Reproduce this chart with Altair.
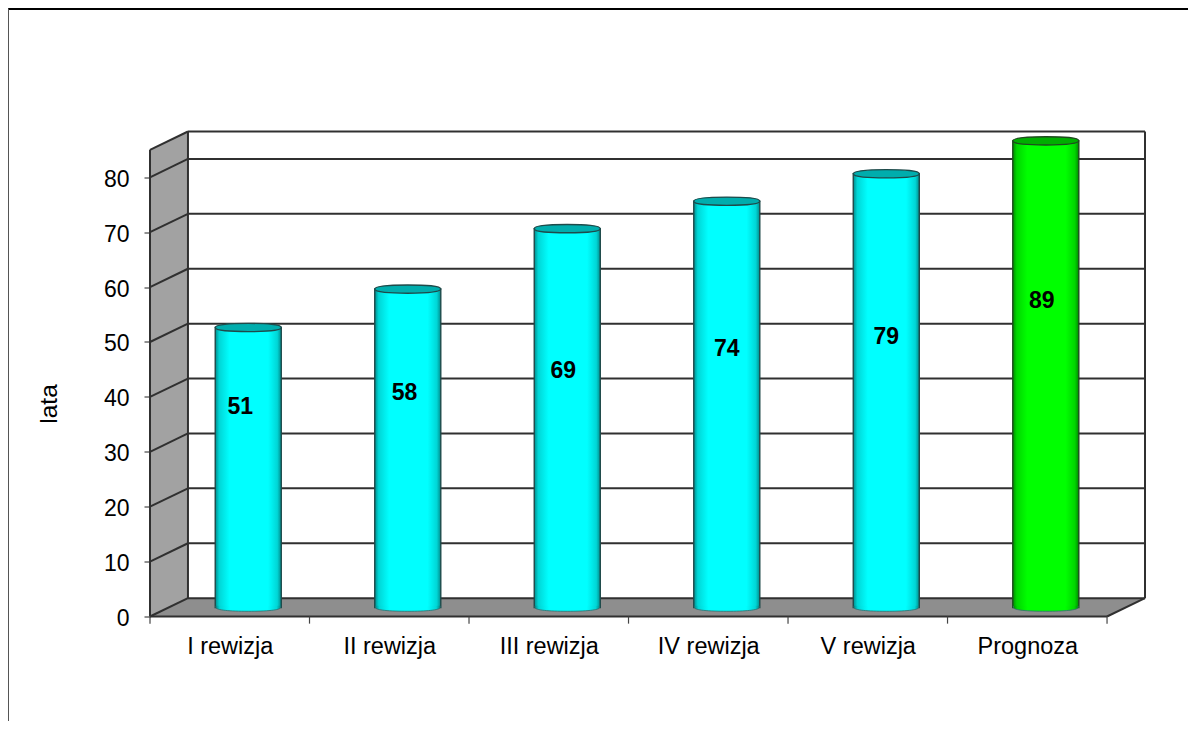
import altair as alt
import pandas as pd

categories = ["I rewizja", "II rewizja", "III rewizja", "IV rewizja", "V rewizja", "Prognoza"]
values = [51, 58, 69, 74, 79, 89]
label_heights = [38.2, 40.7, 44.8, 48.8, 51.0, 57.4]
label_shift = [-0.05, -0.02, -0.025, 0.0, 0.0, -0.025]
axis_max = 85
y_ticks = [0, 10, 20, 30, 40, 50, 60, 70, 80]

FONT = "Liberation Sans"
DX, DY = 0.238, 3.34            # depth of the fake 3-D box, in data units
BAR_DX, BAR_DY = 0.116, 1.64    # bars stand in the middle of the depth
BAR_HALF = 0.207

xs = alt.Scale(domain=[0, 6 + DX], nice=False, zero=False)
ys = alt.Scale(domain=[0, axis_max + DY], nice=False, zero=False)
x_axis = alt.Axis(values=[i + 0.5 for i in range(6)],
                  labelExpr="%s[round(datum.value - 0.5)]" % str(categories),
                  title=None, domain=False, ticks=False, grid=False,
                  labelFont=FONT, labelFontSize=23.5, labelColor="#000",
                  labelPadding=18, labelAngle=0)
y_axis = alt.Axis(values=y_ticks, title="lata", domain=False, grid=False,
                  tickColor="#222", tickSize=6, tickWidth=1,
                  labelFont=FONT, labelFontSize=23, labelColor="#000", labelPadding=15, labelOffset=2,
                  titleFont=FONT, titleFontSize=24.5, titleFontWeight="normal",
                  titleColor="#000", titleX=-89, titleY=272)
X = lambda f="x": alt.X(f, type="quantitative", scale=xs, axis=x_axis)
Y = lambda f="y": alt.Y(f, type="quantitative", scale=ys, axis=y_axis)

# walls
side = pd.DataFrame({"x": [0, DX], "y": [0, DY], "y2": [axis_max, axis_max + DY]})
floor = pd.DataFrame({"x": [0, DX, 6, 6 + DX], "y": [0, 0, 0, DY], "y2": [0, DY, DY, DY]})

side_l = alt.Chart(side).mark_area(color="#a2a2a2", line=False).encode(X(), Y(), y2="y2")
floor_l = alt.Chart(floor).mark_area(color="#8e8e8e", line=False).encode(X(), Y(), y2="y2")

# grid and box edges
segs = []
for v in y_ticks[1:] + [axis_max]:
    segs.append((DX, v + DY, 6 + DX, v + DY))
    segs.append((0, v, DX, v + DY))
segs += [
    (DX, DY, DX, axis_max + DY),
    (6 + DX, DY, 6 + DX, axis_max + DY),
    (DX, DY, 6 + DX, DY),
    (0, 0, DX, DY),
    (6, 0, 6 + DX, DY),
    (0, 0, 0, axis_max),
    (0, 0, 6, 0),
]
seg_df = pd.DataFrame(segs, columns=["x", "y", "x2", "y2"])
grid_l = alt.Chart(seg_df).mark_rule(color="#303030", strokeWidth=2).encode(X(), Y(), x2="x2", y2="y2")

# x ticks
tick_df = pd.DataFrame({"x": list(range(7)), "y": [0] * 7, "y2": [-1.3] * 7})
tick_l = alt.Chart(tick_df).mark_rule(color="#444", strokeWidth=1.2).encode(X(), Y(), y2="y2")

# bars
def grad(edge, mid, bright):
    return alt.Gradient(gradient="linear", x1=0, x2=1, y1=0, y2=0, stops=[
        alt.GradientStop(offset=0, color=edge),
        alt.GradientStop(offset=0.06, color=mid),
        alt.GradientStop(offset=0.22, color=bright),
        alt.GradientStop(offset=0.8, color=bright),
        alt.GradientStop(offset=0.94, color=mid),
        alt.GradientStop(offset=1, color=edge),
    ])

TOP = "M-1,0C-1,-.1 -.55,-.125 0,-.125C.55,-.125 1,-.1 1,0C1,.1 .55,.125 0,.125C-.55,.125 -1,.1 -1,0Z"
BOTTOM = "M-.98,-.05L-.98,0C-.98,.08 -.55,.115 0,.115C.55,.115 .98,.08 .98,0L.98,-.05"
SIZE = 4356

rows = []
for i, (c, v) in enumerate(zip(categories, values)):
    cx = i + 0.5 + BAR_DX
    rows.append({"cat": c, "value": v, "cx": cx, "x": cx - BAR_HALF, "x2": cx + BAR_HALF,
                 "base": BAR_DY, "top": BAR_DY + min(v, axis_max),
                 "label_x": cx + label_shift[i], "label_y": label_heights[i]})
bars = pd.DataFrame(rows)

bar_layers = []
for sel, g, lid, edge in [
    (bars[bars.cat != "Prognoza"], grad("#008c8c", "#00d6d6", "#00ffff"), "#00adad", "#1f4a4a"),
    (bars[bars.cat == "Prognoza"], grad("#008c00", "#00d600", "#00ff00"), "#00ad00", "#1f4a1f"),
]:
    base = alt.Chart(sel)
    bar_layers += [
        base.mark_rect(fill=g, stroke=edge, strokeWidth=1.4).encode(X("x"), Y("base"), x2="x2", y2="top"),
        base.mark_point(shape=BOTTOM, size=SIZE, filled=True, fill=g, stroke="#2f6f6f", strokeWidth=0.8, opacity=1).encode(
            X("cx"), Y("base")),
        base.mark_point(shape=TOP, size=SIZE, filled=True, fill=lid, stroke=edge, strokeWidth=1.4, opacity=1).encode(
            X("cx"), Y("top")),
    ]

labels = alt.Chart(bars).mark_text(font=FONT, fontSize=23, fontWeight="bold", color="#000", baseline="middle").encode(
    X("label_x"), Y("label_y"), text="value:N")

# outer frame (cut off by the page at right and bottom)
one = pd.DataFrame({"a": [0]})
frame_top = alt.Chart(one).mark_rule(color="#000", strokeWidth=2).encode(
    x=alt.value(-142), x2=alt.value(1038), y=alt.value(-122.5))
frame_left = alt.Chart(one).mark_rule(color="#555", strokeWidth=2).encode(
    x=alt.value(-142), y=alt.value(-123), y2=alt.value(590))

chart = alt.layer(frame_top, frame_left, side_l, floor_l, grid_l, tick_l, *bar_layers, labels).properties(
    width=995, height=485, autosize="none", background="white",
    padding={"left": 142, "top": 123.5, "right": 43, "bottom": 104.5},
).configure_view(strokeWidth=0)

chart.save("out.html", embed_options={"renderer": "svg", "actions": False})
